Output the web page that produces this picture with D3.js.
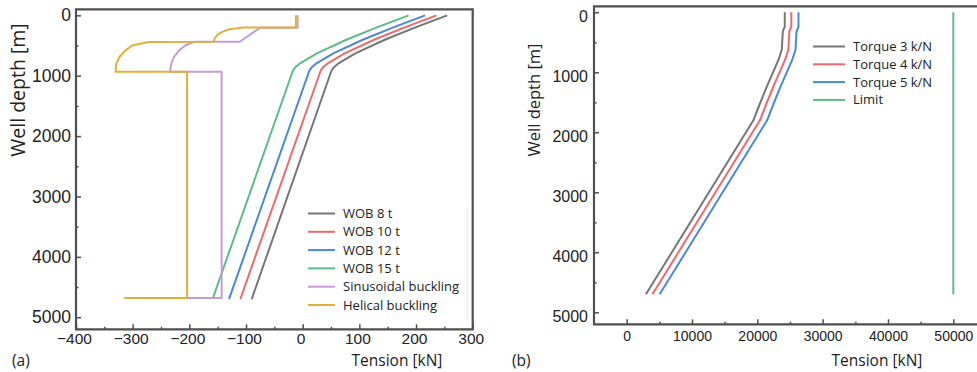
<!DOCTYPE html>
<html><head><meta charset="utf-8">
<script src="https://cdn.jsdelivr.net/npm/d3@7"></script>
<style>
html,body{margin:0;padding:0;background:#fff;}
svg{display:block;font-family:"Open Sans",sans-serif;}
</style></head>
<body>
<svg id="c" width="977" height="372"></svg>
<script>
// ---------- data (left panel a: tension [kN] vs depth [m]) ----------
const leftXTicks = [-400,-300,-200,-100,0,100,200,300];
const leftYTicks = [0,1000,2000,3000,4000,5000];
const rightXTicks = [0,10000,20000,30000,40000,50000];
const rightYTicks = [0,1000,2000,3000,4000,5000];

const wob8  = [[255,0],[199,200],[146,400],[93,629],[64,790],[56,850],[51,910],[-90,4700]];
const wob10 = [[236,0],[180,200],[127,400],[74,629],[45,790],[37,850],[32,910],[-110,4700]];
const wob12 = [[216,0],[160,200],[107,400],[54,629],[25,790],[17,850],[12,910],[-130,4700]];
const wob15 = [[187,0],[131,200],[78,400],[25,629],[-4,790],[-12,850],[-17,910],[-159,4700]];
const sinusoidal = [[-9,0],[-9,205],[-75,205],[-111,437],[-192,437],[-207,500],[-218,580],[-227,686],[-232,805],[-234,933],[-143,933],[-143,4680],[-215,4680]];
const helical = [[-12,0],[-12,200],[-104,200],[-130,232],[-141,269],[-150,318],[-155,376],[-157,437],[-272,440],[-301,499],[-313,584],[-323,686],[-329,805],[-330,933],[-204,933],[-204,4680],[-315,4680]];
const leftNames = ["WOB 8 t","WOB 10 t","WOB 12 t","WOB 15 t","Sinusoidal buckling","Helical buckling"];

// ---------- data (right panel b) ----------
const torque3 = [[24200,0],[24200,240],[23900,320],[23750,620],[23250,790],[22450,990],[21450,1240],[20400,1520],[19400,1800],[2950,4700]];
const torque4 = [[25200,0],[25200,240],[24900,320],[24750,620],[24250,790],[23450,990],[22450,1240],[21400,1520],[20400,1800],[3950,4700]];
const torque5 = [[26300,0],[26300,240],[26000,320],[25850,620],[25350,790],[24550,990],[23550,1240],[22500,1520],[21500,1800],[5050,4700]];
const limit = [[50000,0],[50000,4700]];
const rightNames = ["Torque 3 k/N","Torque 4 k/N","Torque 5 k/N","Limit"];

const colors = {gray:"#767676", red:"#f0686c", blue:"#4a88d8", green:"#5dbb86", purple:"#c79bd8", yellow:"#e2b03a"};
const frameColor = "#4f4f4f";
const fmt = d3.format("d");

const svg = d3.select("#c");
svg.append("rect").attr("width",977).attr("height",372).attr("fill","#fff");

function panel(opt){
  const g = svg.append("g");
  const x = d3.scaleLinear().domain(opt.xd).range(opt.xr);
  const y = d3.scaleLinear().domain(opt.yd).range(opt.yr);
  const line = d3.line().x(d=>x(d[0])).y(d=>y(d[1]));
  const clipId = opt.id+"clip";
  svg.append("clipPath").attr("id",clipId).append("rect")
    .attr("x",opt.xr[0]).attr("y",opt.yr[0]).attr("width",opt.xr[1]-opt.xr[0]).attr("height",opt.yr[1]-opt.yr[0]);
  const plot = g.append("g").attr("clip-path",`url(#${clipId})`);
  opt.series.forEach(s=>{
    plot.append("path").attr("d",line(s.data)).attr("fill","none")
      .attr("stroke",s.color).attr("stroke-width",2).attr("stroke-linejoin","round");
  });
  // minor ticks
  const xb = g.append("g").attr("transform",`translate(0,${opt.yr[1]})`);
  xb.call(d3.axisBottom(x).tickValues(opt.xMinor).tickSize(-2.5).tickFormat(""));
  const xa = g.append("g").attr("transform",`translate(0,${opt.yr[1]})`);
  xa.call(d3.axisBottom(x).tickValues(opt.xTicks).tickFormat(d=>fmt(d).replace("-","\u2212")).tickSize(-5).tickPadding(opt.xPad).tickSizeOuter(0));
  xa.selectAll("text").attr("font-size",opt.xFont).attr("fill","#222").attr("dx",opt.xdx||0);
  const yb = g.append("g").attr("transform",`translate(${opt.xr[0]},0)`);
  yb.call(d3.axisLeft(y).tickValues(opt.yMinor).tickSize(-2.5).tickFormat(""));
  const ya = g.append("g").attr("transform",`translate(${opt.xr[0]},0)`);
  ya.call(d3.axisLeft(y).tickValues(opt.yTicks).tickFormat(fmt).tickSize(-5).tickPadding(opt.yPad).tickSizeOuter(0));
  ya.selectAll("text").attr("font-size",opt.yFont).attr("fill","#222").attr("dy",opt.ydy);
  g.selectAll(".domain").remove();
  g.selectAll(".tick line").attr("stroke",frameColor).attr("stroke-width",1.5);
  g.selectAll("text").attr("font-family",null);
  // frame
  g.append("path").attr("d",opt.frame(opt.xr,opt.yr)).attr("fill","none")
    .attr("stroke",frameColor).attr("stroke-width",2.2);
  // titles
  g.append("text").attr("x",opt.xTitle[0]).attr("y",opt.xTitle[1]).attr("text-anchor","middle")
    .attr("font-size",opt.xTitleFont).attr("fill","#222").text("Tension [kN]");
  g.append("text").attr("transform",`translate(${opt.yTitle[0]},${opt.yTitle[1]}) rotate(-90)`)
    .attr("text-anchor","middle").attr("font-size",opt.yTitleFont).attr("fill","#222").text("Well depth [m]");
  g.append("text").attr("x",opt.label[0]).attr("y",opt.label[1]).attr("font-size",opt.labelFont).attr("fill","#222").text(opt.labelText);
  // legend
  const lg = g.append("g");
  opt.series.forEach((s,i)=>{
    const yy = opt.leg.y0 + i*opt.leg.dy;
    lg.append("line").attr("x1",opt.leg.x1).attr("x2",opt.leg.x2).attr("y1",yy).attr("y2",yy)
      .attr("stroke",s.color).attr("stroke-width",2);
    lg.append("text").attr("x",opt.leg.tx).attr("y",yy).attr("dy","0.35em")
      .attr("font-size",opt.leg.font).attr("fill","#222").text(s.name);
  });
  return g;
}

const lp = panel({
  id:"a", xd:[-400,300], xr:[76,472.7], yd:[-100,5200], yr:[9.3,329.3],
  xTicks:leftXTicks, yTicks:leftYTicks,
  xMinor:d3.range(-350,300,100), yMinor:d3.range(500,5200,1000),
  xPad:4, xFont:15.5, xdx:-2, yPad:5, yFont:17.5, ydy:"0.32em",
  frame:(xr,yr)=>`M${xr[0]},${yr[0]}H${xr[1]}V${yr[1]}H${xr[0]}Z`,
  xTitle:[397,366], xTitleFont:15.5, yTitle:[25,90], yTitleFont:19.5,
  label:[12,366], labelFont:15.5, labelText:"(a)",
  series:[
    {name:leftNames[0],data:wob8,color:colors.gray},
    {name:leftNames[1],data:wob10,color:colors.red},
    {name:leftNames[2],data:wob12,color:colors.blue},
    {name:leftNames[3],data:wob15,color:colors.green},
    {name:leftNames[4],data:sinusoidal,color:colors.purple},
    {name:leftNames[5],data:helical,color:colors.yellow}
  ],
  leg:{x1:308,x2:335,tx:343,y0:213.5,dy:18.3,font:13}
});
// faint legend frame edge (left)
svg.append("line").attr("x1",467).attr("x2",467).attr("y1",207).attr("y2",320).attr("stroke","#e4e4e4").attr("stroke-width",1);

const rp = panel({
  id:"b", xd:[-5000,55000], xr:[594,986], yd:[-100,5200], yr:[6.3,324.3],
  xTicks:rightXTicks, yTicks:rightYTicks,
  xMinor:d3.range(5000,55000,10000), yMinor:d3.range(500,5200,1000),
  xPad:7, xFont:14, xdx:0, yPad:6, yFont:16, ydy:"0.6em",
  frame:(xr,yr)=>`M${xr[1]},${yr[0]}H${xr[0]}V${yr[1]}H${xr[1]}`,
  xTitle:[877,366], xTitleFont:15.5, yTitle:[540,100], yTitleFont:16.5,
  label:[512,366], labelFont:15.5, labelText:"(b)",
  series:[
    {name:rightNames[0],data:torque3,color:colors.gray},
    {name:rightNames[1],data:torque4,color:colors.red},
    {name:rightNames[2],data:torque5,color:colors.blue},
    {name:rightNames[3],data:limit,color:colors.green}
  ],
  leg:{x1:813,x2:845,tx:853,y0:46.5,dy:17.8,font:13}
});
</script>
</body></html>
